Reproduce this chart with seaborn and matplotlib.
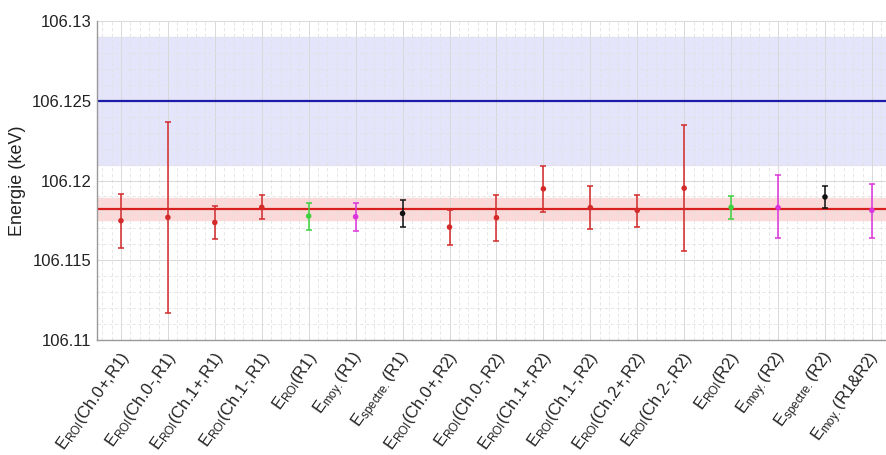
import numpy as np
import pandas as pd
import matplotlib.pyplot as plt
import seaborn as sns
from matplotlib.ticker import MultipleLocator
from matplotlib.transforms import ScaledTranslation

LABELS = [
    r"E$_{\mathrm{ROI}}$(Ch.0+,R1)",
    r"E$_{\mathrm{ROI}}$(Ch.0-,R1)",
    r"E$_{\mathrm{ROI}}$(Ch.1+,R1)",
    r"E$_{\mathrm{ROI}}$(Ch.1-,R1)",
    r"E$_{\mathrm{ROI}}$(R1)",
    r"E$_{\mathrm{moy.}}$(R1)",
    r"E$_{\mathrm{spectre.}}$(R1)",
    r"E$_{\mathrm{ROI}}$(Ch.0+,R2)",
    r"E$_{\mathrm{ROI}}$(Ch.0-,R2)",
    r"E$_{\mathrm{ROI}}$(Ch.1+,R2)",
    r"E$_{\mathrm{ROI}}$(Ch.1-,R2)",
    r"E$_{\mathrm{ROI}}$(Ch.2+,R2)",
    r"E$_{\mathrm{ROI}}$(Ch.2-,R2)",
    r"E$_{\mathrm{ROI}}$(R2)",
    r"E$_{\mathrm{moy.}}$(R2)",
    r"E$_{\mathrm{spectre.}}$(R2)",
    r"E$_{\mathrm{moy.}}$(R1&R2)",
]
ENERGY = [106.11748, 106.11769, 106.11737, 106.11832, 106.11777, 106.11773,
          106.11794, 106.11708, 106.11767, 106.11948, 106.11830, 106.11813,
          106.11952, 106.11832, 106.11830, 106.11897, 106.11813]
LOWER = [106.11579, 106.11168, 106.11632, 106.11760, 106.11689, 106.11683,
         106.11708, 106.11598, 106.11620, 106.11803, 106.11695, 106.11710,
         106.11560, 106.11756, 106.11639, 106.11825, 106.11641]
UPPER = [106.11914, 106.12368, 106.11842, 106.11907, 106.11861, 106.11857,
         106.11878, 106.11815, 106.11910, 106.12093, 106.11968, 106.11912,
         106.12345, 106.11905, 106.12032, 106.11967, 106.11977]
KIND = ["ch", "ch", "ch", "ch", "roi", "moy", "spectre", "ch", "ch", "ch",
        "ch", "ch", "ch", "roi", "moy", "spectre", "moy"]

# Reference value (blue) and weighted mean (red), with their bands
REF_VALUE, REF_ERR = 106.125, 0.004
MEAN_VALUE, MEAN_ERR = 106.11822, 0.0007

COLORS = {"ch": "#d42a2a", "roi": "#3fd13f", "moy": "#dd33dd", "spectre": "#111111"}

df = pd.DataFrame({"label": LABELS, "energy": ENERGY, "lower": LOWER,
                   "upper": UPPER, "kind": KIND})
df["pos"] = np.arange(1, len(df) + 1)

sns.set_theme(style="white")
plt.rcParams["font.family"] = ["Liberation Sans", "DejaVu Sans"]
plt.rcParams["mathtext.fontset"] = "custom"
plt.rcParams["mathtext.rm"] = "Liberation Sans"
plt.rcParams["mathtext.it"] = "Liberation Sans"

fig = plt.figure(figsize=(8.86, 4.55), dpi=100)
ax = fig.add_axes([0.1095, 0.2527, 0.8905, 0.7011])

# bands and horizontal reference lines
ax.axhspan(REF_VALUE - REF_ERR, REF_VALUE + REF_ERR, color="#e4e4fb", zorder=0)
ax.axhspan(MEAN_VALUE - MEAN_ERR, MEAN_VALUE + MEAN_ERR, color="#fbd9d9", zorder=0)
ax.axhline(REF_VALUE, color="#1c1ca8", lw=1.6, zorder=2)
ax.axhline(MEAN_VALUE, color="#d92020", lw=1.6, zorder=2)

# error bars
for _, row in df.iterrows():
    c = COLORS[row["kind"]]
    ax.errorbar(row["pos"], row["energy"],
                yerr=[[row["energy"] - row["lower"]], [row["upper"] - row["energy"]]],
                fmt="none", ecolor=c, elinewidth=1.1, capsize=2.5, capthick=1.1,
                zorder=3)

sns.scatterplot(data=df, x="pos", y="energy", hue="kind", palette=COLORS,
                s=16, edgecolor="none", legend=False, zorder=4, ax=ax)

ax.set_xlim(0.49, 17.3)
ax.set_ylim(106.11, 106.13)
ax.yaxis.set_minor_locator(MultipleLocator(0.001))
ax.xaxis.set_minor_locator(MultipleLocator(0.2))
ax.set_yticks([106.11, 106.115, 106.12, 106.125, 106.13])
ax.set_yticklabels(["106.11", "106.115", "106.12", "106.125", "106.13"],
                   fontsize=12, color="#222222")
ax.set_xlabel("")
ax.set_ylabel("Energie (keV)", fontsize=13, color="#222222", labelpad=4)

ax.grid(which="major", color="#d8d8d8", lw=0.7, zorder=1)
ax.grid(which="minor", color="#e2e2e2", lw=0.6, ls=(0, (4, 3)), zorder=1)
ax.set_axisbelow(True)
ax.tick_params(axis="both", which="major", length=5, color="#888888",
               direction="in", pad=4)
ax.tick_params(axis="both", which="minor", length=0)
for side in ["top", "right"]:
    ax.spines[side].set_visible(False)
for side in ["left", "bottom"]:
    ax.spines[side].set_color("#999999")
    ax.spines[side].set_linewidth(1.0)

# x tick labels last, so tick_params does not reset the offset
ax.set_xticks(df["pos"])
ax.set_xticklabels(df["label"], rotation=55, ha="right", va="center",
                   rotation_mode="anchor", fontsize=12, color="#222222")
offset = ScaledTranslation(5 / 100, -9 / 100, fig.dpi_scale_trans)
for lab in ax.get_xticklabels():
    lab.set_transform(lab.get_transform() + offset)

fig.savefig("out.png", dpi=100)
